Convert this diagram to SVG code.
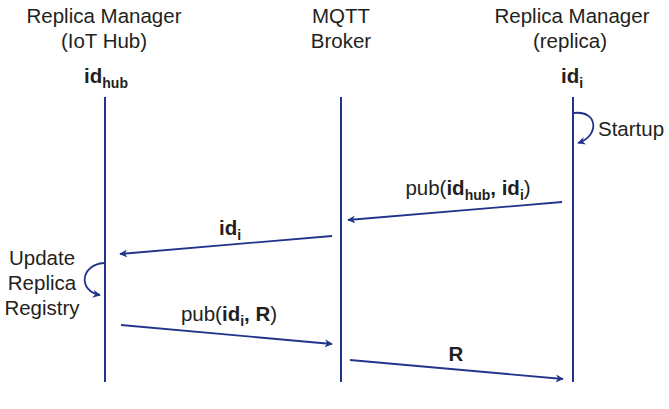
<svg xmlns="http://www.w3.org/2000/svg" width="669" height="409" viewBox="0 0 669 409">
<style>
text{font-family:"Liberation Sans",Arial,sans-serif;fill:#231f20;font-size:20.5px}
.c{text-anchor:middle}
.b{font-weight:bold}
.s{font-size:14px;font-weight:bold}
.l{stroke:#23358a;stroke-width:2;fill:none}
.a{stroke:#23358a;stroke-width:1.8;fill:none;marker-end:url(#ah)}
</style>
<defs>
<marker id="ah" viewBox="0 0 10 10" refX="9" refY="5" markerWidth="8" markerHeight="8" orient="auto" markerUnits="userSpaceOnUse">
<path d="M0,0 L10,5 L0,10 L3,5 Z" fill="#23358a"/>
</marker>
</defs>
<g id="hub">
<text class="c" x="104" y="23">Replica Manager</text>
<text class="c" x="104" y="48">(IoT Hub)</text>
<text class="c b" x="106" y="83">id<tspan class="s" dy="5">hub</tspan></text>
<line class="l" x1="105" y1="97" x2="105" y2="382"/>
</g>
<g id="broker">
<text class="c" x="341" y="23">MQTT</text>
<text class="c" x="341" y="48">Broker</text>
<line class="l" x1="341" y1="97" x2="341" y2="382"/>
</g>
<g id="replica">
<text class="c" x="572" y="23">Replica Manager</text>
<text class="c" x="570" y="48">(replica)</text>
<text class="c b" x="572" y="83">id<tspan class="s" dy="5">i</tspan></text>
<line class="l" x1="573" y1="97" x2="573" y2="382"/>
</g>
<g id="startup">
<path class="a" d="M574,113 C598,110 600,136 578,143"/>
<text x="598" y="136">Startup</text>
</g>
<g id="update">
<path class="a" d="M104,263 C80,265 78,291 100,295"/>
<text class="c" x="42" y="265">Update</text>
<text class="c" x="42" y="290">Replica</text>
<text class="c" x="42" y="315">Registry</text>
</g>
<g id="connectors">
<line class="a" x1="562" y1="202" x2="348" y2="220"/>
<text class="c" x="468" y="195">pub(<tspan class="b">id</tspan><tspan class="s" dy="5">hub</tspan><tspan dy="-5" class="b">, id</tspan><tspan class="s" dy="5">i</tspan><tspan dy="-5">)</tspan></text>
<line class="a" x1="332" y1="236" x2="120" y2="254"/>
<text class="c b" x="230" y="235">id<tspan class="s" dy="5">i</tspan></text>
<line class="a" x1="121" y1="325" x2="332" y2="344"/>
<text class="c" x="229" y="321">pub(<tspan class="b">id</tspan><tspan class="s" dy="5">i</tspan><tspan dy="-5" class="b">, R</tspan>)</text>
<line class="a" x1="350" y1="360" x2="563" y2="379"/>
<text class="c b" x="456" y="361">R</text>
</g>
</svg>
